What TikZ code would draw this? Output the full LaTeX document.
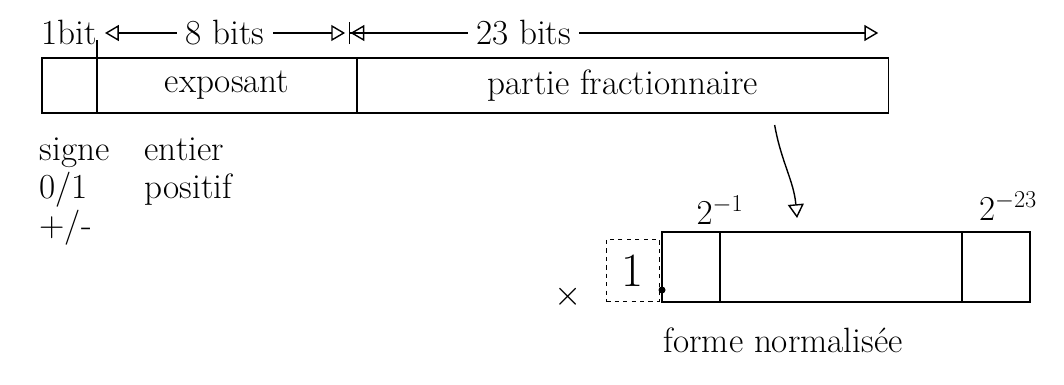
\documentclass[tikz,border=0pt]{standalone}
\usepackage{tikz}
\usetikzlibrary{arrows.meta, positioning, calc}

\begin{document}
\begin{tikzpicture}[
    x=0.025cm, y=-0.025cm,
    field/.style={rectangle, draw=black, line width=1pt, minimum height=1.375cm, inner sep=0pt, outer sep=0pt, font=\fontsize{25}{27}\selectfont},
    cell/.style={rectangle, draw=black, line width=1pt, minimum height=1.75cm, inner sep=0pt, outer sep=0pt},
    lbl/.style={font=\fontsize{25}{27}\selectfont, inner sep=1pt},
    dimarr/.style={{Triangle[open, scale=1.8]}-{Triangle[open, scale=1.8]}, line width=1pt},
    dimbar/.style={{Bar[width=16pt] Triangle[open, scale=1.8]}-{Triangle[open, scale=1.8]}, line width=1pt},
    arr/.style={-{Triangle[open, scale=1.8]}, line width=1pt}
]
\useasboundingbox (0,0) rectangle (1064,385);

% registre simple precision
\node[field, minimum width=1.375cm, anchor=north west] (sgn) at (42,58) {};
\node[field, minimum width=6.5cm, right=0pt of sgn] (expo) {exposant};
\node[field, minimum width=13.275cm, right=0pt of expo] (frac) {partie fractionnaire};

% cotes
\node[lbl, above=0.3cm of sgn] (bit1) {1bit};
\draw[line width=1pt] (sgn.north east) -- ++(0,-18);
\coordinate (e8l) at ($(expo.north west)+(8,-25)$);
\coordinate (e8r) at ($(expo.north east)+(-12,-25)$);
\coordinate (f23l) at ($(frac.north west)+(-8,-25)$);
\coordinate (f23r) at ($(frac.north east)+(-10,-25)$);
\draw[dimarr] (e8l) -- (e8r) node[midway, lbl, fill=white, inner xsep=6pt] (lab8) {8 bits};
\draw[dimbar] (f23l) -- (f23r) node[pos=0.33, lbl, fill=white, inner xsep=6pt] (lab23) {23 bits};

% legendes
\node[lbl, anchor=north west, align=left] (signe) at (38,136) {signe\\0/1\\+/-};
\node[lbl, anchor=north west, align=left] (entier) at (143,136) {entier\\positif};

% forme normalisee
\node[cell, minimum width=1.45cm, anchor=north west] (bfirst) at (662,232) {};
\node[cell, minimum width=6.05cm, right=0pt of bfirst] (bmid) {};
\node[cell, minimum width=1.7cm, right=0pt of bmid] (blast) {};
\node[draw, dashed, line width=1pt, minimum width=1.325cm, minimum height=1.55cm, anchor=south east, font=\fontsize{34}{36}\selectfont, inner sep=0pt] (one) at ($(bfirst.south west)+(-2,0)$) {1};
\node[lbl, anchor=east] (times) at ($(one.west)+(-22,26)$) {$\times$};
\fill ($(bfirst.south west)+(0,-12)$) circle (3.5);
\node[lbl, above=0.15cm of bfirst.north east] (pm1) {$2^{-1}$};
\node[lbl, above=0.25cm of blast.north, xshift=0.3cm] (pm23) {$2^{-23}$};
\node[lbl, anchor=north west] (norm) at ($(bfirst.south west)+(0,24)$) {forme normalisée};

% fleche
\coordinate (arrs) at ($(frac.south)+(152,12)$);
\coordinate (arre) at ($(bmid.north)+(-44,-14)$);
\draw[arr] (arrs) to[out=-80, in=95] (arre);

\end{tikzpicture}
\end{document}
